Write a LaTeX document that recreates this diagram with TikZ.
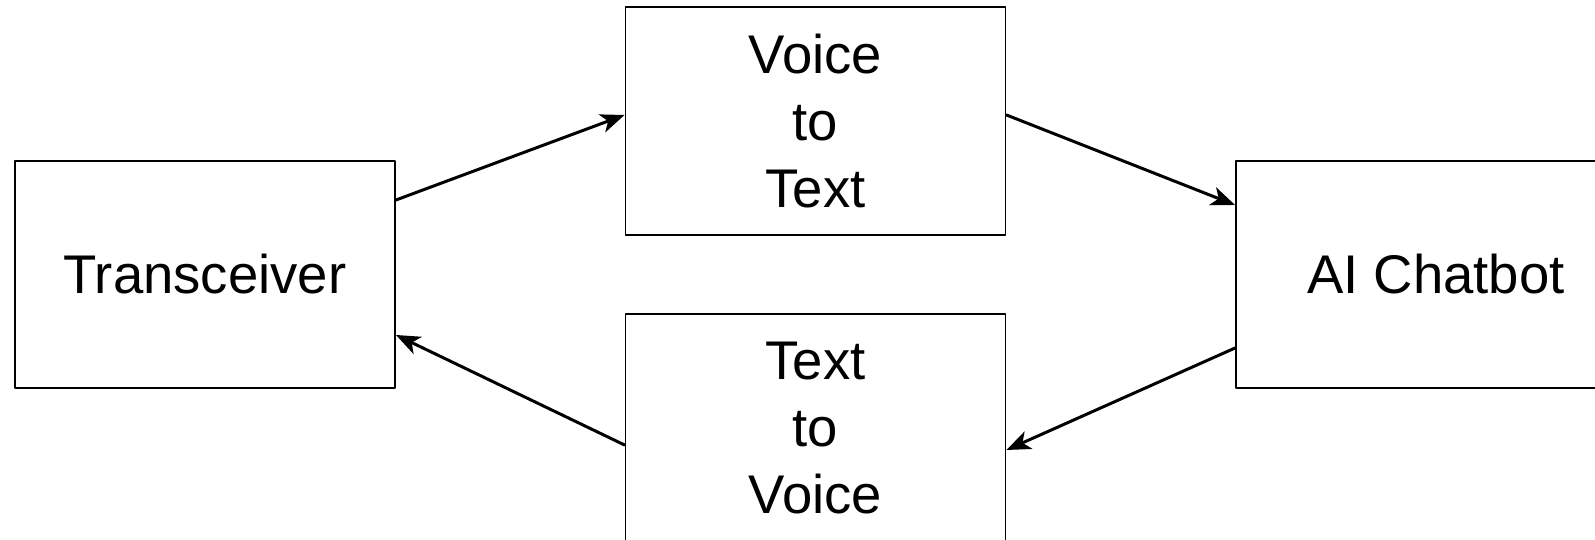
\documentclass[tikz,border=0pt]{standalone}
\usepackage{fontspec}
\setmainfont{Liberation Sans}
\usetikzlibrary{arrows.meta}
\begin{document}
\begin{tikzpicture}[line cap=round, line join=round, >={Stealth[length=0.48cm, width=0.38cm, inset=0.13cm]}, font=\fontsize{31}{38}\selectfont]
			\tikzset{box style/.style={draw, line width=1.1pt, minimum width=7.6cm, minimum height=4.55cm, align=center, inner sep=0pt}}
			\tikzset{arrow style/.style={->, line width=1.7pt}}
			\useasboundingbox (0,0) rectangle (31.9,10.8);
			\node[box style] (trans) at (4.1,5.31) {Transceiver};
			\node[box style, minimum width=8cm] (chat) at (28.72,5.31) {AI Chatbot};
			\node[box style] (vtt) at (16.31,8.38) {Voice\\to\\Text};
			\node[box style] (ttv) at (16.31,2.24) {Text\\to\\Voice};
			\draw[arrow style] ([yshift=1.49cm]trans.east)--([yshift=0.12cm]vtt.west);
			\draw[arrow style] ([yshift=0.12cm]vtt.east)--([yshift=1.39cm]chat.west);
			\draw[arrow style] ([yshift=-1.47cm]chat.west)--([yshift=-0.44cm]ttv.east);
			\draw[arrow style] ([yshift=-0.34cm]ttv.west)--([yshift=-1.21cm]trans.east);
		\end{tikzpicture}
\end{document}
